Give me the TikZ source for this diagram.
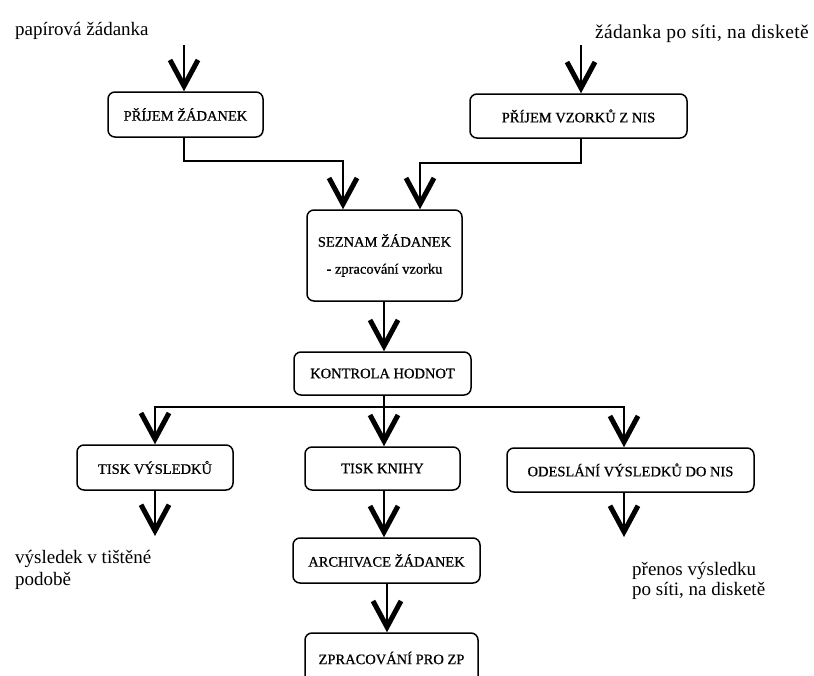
\documentclass[tikz,border=0pt]{standalone}
\usepackage{fontspec}
\setmainfont{Liberation Serif}
\newfontfamily\boxfont{Liberation Serif}[FakeBold=0.7]
\usetikzlibrary{arrows.meta}
\begin{document}
\begin{tikzpicture}[x=1pt,y=-1pt,
  box/.style={draw,rounded corners=7pt,line width=1.5pt,inner sep=0pt,align=center,
    font=\boxfont\fontsize{14.5}{17}\selectfont},
  outtext/.style={inner sep=0pt,align=left,font=\fontsize{19}{21}\selectfont},
  arr/.style={line width=1.3pt,-{Straight Barb[length=26pt,width=28pt,line width'=5pt]}},
  ln/.style={line width=1.3pt}]
\clip (0,0) rectangle (814,675);
\fill[white] (0,0) rectangle (814,675);

% boxes
\node[box,minimum width=155pt,minimum height=45pt] (pz) at (185.5,114.5) {PŘÍJEM ŽÁDANEK};
\node[box,minimum width=217pt,minimum height=44pt] (pv) at (578.5,116) {PŘÍJEM VZORKŮ Z NIS};
\node[box,minimum width=155pt,minimum height=91pt] (sz) at (384.5,255.5) {SEZNAM ŽÁDANEK\\[10pt] - zpracování vzorku};
\node[box,minimum width=177pt,minimum height=43pt] (kh) at (382.5,373.5) {KONTROLA HODNOT};
\node[box,minimum width=156pt,minimum height=45pt] (tv) at (155,467.5) {TISK VÝSLEDKŮ};
\node[box,minimum width=155pt,minimum height=43pt] (tk) at (382.5,468.5) {TISK KNIHY};
\node[box,minimum width=247pt,minimum height=44pt] (od) at (630.5,470) {ODESLÁNÍ VÝSLEDKŮ DO NIS};
\node[box,minimum width=187pt,minimum height=45pt] (ar) at (386.5,560.5) {ARCHIVACE ŽÁDANEK};
\node[box,minimum width=173pt,minimum height=56pt] (zp) at (391.5,661) {};
\node[inner sep=0pt,font=\boxfont\fontsize{14.5}{17}\selectfont] (zpt) at (391.5,658) {ZPRACOVÁNÍ PRO ZP};

% free texts
\node[outtext,anchor=base west] (t1) at (15,35) {papírová žádanka};
\node[outtext,anchor=base east,font=\fontsize{19.5}{21}\selectfont\addfontfeature{LetterSpace=2}] (t2) at (809,38) {žádanka po síti, na disketě};
\node[outtext,anchor=base west,font=\fontsize{19}{22}\selectfont] (t3) at (15,585) {výsledek v tištěné\\podobě};
\node[outtext,anchor=base west,font=\fontsize{19}{20}\selectfont] (t4) at (632,595) {přenos výsledku\\po síti, na disketě};

% coordinates
\coordinate (in1) at (184,45);
\coordinate (in2) at (581,45);
\coordinate (j1) at (343,161);
\coordinate (j2) at (420,163);
\coordinate (bus) at (384,407);
\coordinate (o1) at (155,536);
\coordinate (o2) at (624,537);
\coordinate (a3) at (387,600);

% connectors
\draw[arr] (in1) -- (in1 |- pz.north);
\draw[arr] (in2) -- (in2 |- pv.north);
\draw[arr] (pz.south -| in1) |- (j1) -- (j1 |- sz.north);
\draw[arr] (pv.south -| in2) |- (j2) -- (j2 |- sz.north);
\draw[arr] (sz.south -| bus) -- (bus |- kh.north);
\draw[ln] (kh.south -| bus) -- (bus);
\draw[arr] (bus) -| (tv.north);
\draw[arr] (bus) -| (od.north -| o2);
\draw[arr] (bus) -- (bus |- tk.north);
\draw[arr] (tv.south) -- (o1);
\draw[arr] (tk.south -| bus) -- (bus |- ar.north);
\draw[arr] (ar.south -| a3) -- (a3 |- zp.north);
\draw[arr] (od.south -| o2) -- (o2);
\end{tikzpicture}
\end{document}
